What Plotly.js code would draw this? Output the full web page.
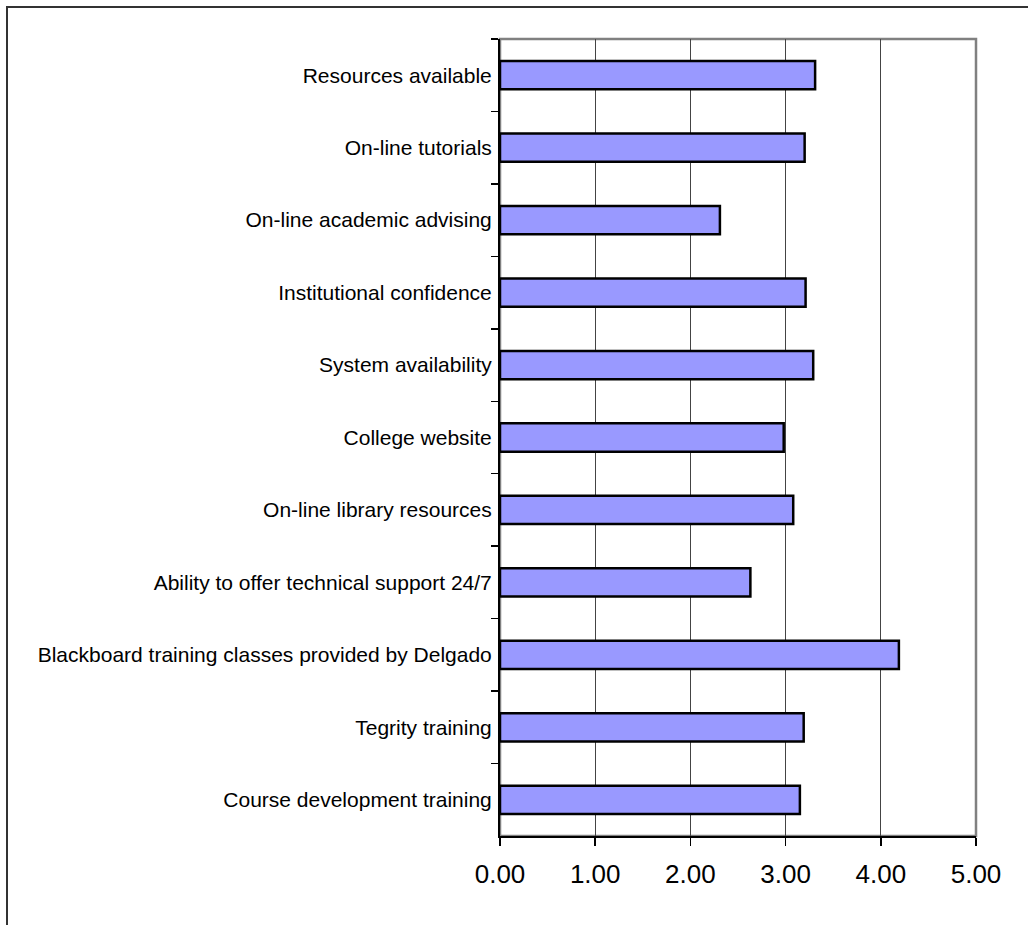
<!DOCTYPE html>
<html>
<head>
<meta charset="utf-8">
<script src="https://cdn.plot.ly/plotly-3.0.1.min.js"></script>
<style>
html,body{margin:0;padding:0;background:#fff;}
#chart{width:1028px;height:925px;}
</style>
</head>
<body>
<div id="chart"></div>
<script>
// Categories, top to bottom
var categories = [
  "Resources available",
  "On-line tutorials",
  "On-line academic advising",
  "Institutional confidence",
  "System availability",
  "College website",
  "On-line library resources",
  "Ability to offer technical support 24/7",
  "Blackboard training classes provided by Delgado",
  "Tegrity training",
  "Course development training"
];
var values = [3.31, 3.20, 2.31, 3.21, 3.29, 2.98, 3.08, 2.63, 4.19, 3.19, 3.15];
var xTickValues = [0, 1, 2, 3, 4, 5];
var xTickLabels = ["0.00", "1.00", "2.00", "3.00", "4.00", "5.00"];

var W = 1028, H = 925;
var M = {l: 500, r: 52, t: 39, b: 89};
var pw = W - M.l - M.r, ph = H - M.t - M.b;
function px2paperX(p){ return (p - M.l) / pw; }
function px2paperY(p){ return (H - M.b - p) / ph; }

var trace = {
  type: "bar",
  orientation: "h",
  y: categories,
  x: values,
  width: 0.39,
  marker: {color: "#9999FF", line: {color: "#000000", width: 2.5}},
  hoverinfo: "x+y"
};

var layout = {
  width: W, height: H,
  margin: M,
  paper_bgcolor: "#ffffff",
  plot_bgcolor: "#ffffff",
  showlegend: false,
  font: {family: "Liberation Sans, Arial, sans-serif", color: "#000000"},
  xaxis: {
    range: [0, 5],
    tickvals: xTickValues,
    ticktext: xTickLabels,
    ticks: "outside",
    ticklen: 8,
    tickwidth: 1.5,
    tickcolor: "#000000",
    showline: true,
    linecolor: "#000000",
    linewidth: 2,
    showgrid: true,
    gridcolor: "#444444",
    gridwidth: 1.2,
    zeroline: false,
    tickfont: {size: 26, color: "#000000"},
    ticklabelstandoff: 6,
    fixedrange: true
  },
  yaxis: {
    autorange: "reversed",
    type: "category",
    ticks: "outside",
    tickson: "boundaries",
    ticklen: 7,
    tickwidth: 1.5,
    tickcolor: "#000000",
    showline: true,
    linecolor: "#000000",
    linewidth: 2,
    showgrid: false,
    zeroline: false,
    tickfont: {size: 21, color: "#000000"},
    ticklabelstandoff: 2,
    fixedrange: true
  },
  shapes: [
    {type: "rect", xref: "paper", yref: "paper", x0: 0, x1: 1, y0: 0, y1: 1,
     line: {color: "#808080", width: 2.5}, layer: "below"},
    {type: "rect", xref: "paper", yref: "paper",
     x0: px2paperX(7), x1: px2paperX(W + 20), y0: px2paperY(H + 20), y1: px2paperY(7),
     line: {color: "#333333", width: 2}, layer: "above"}
  ]
};

Plotly.newPlot("chart", [trace], layout, {displayModeBar: false, staticPlot: true});
</script>
</body>
</html>
